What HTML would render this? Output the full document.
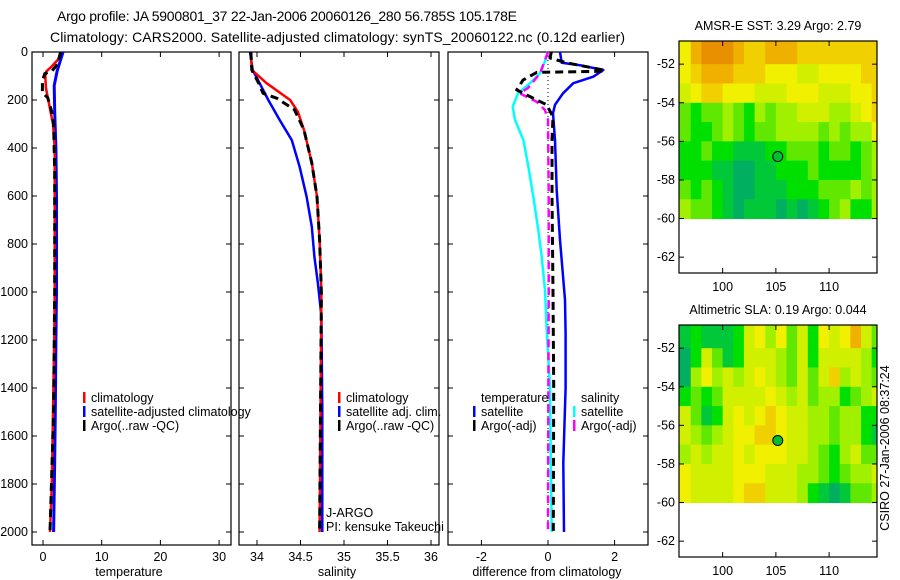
<!DOCTYPE html>
<html><head><meta charset="utf-8"><style>
body{margin:0;background:#fff;}
svg{display:block;font-family:"Liberation Sans",sans-serif;}
</style></head><body>
<svg id="c" width="900" height="580" viewBox="0 0 900 580">
<text x="57" y="21" font-size="14" textLength="460">Argo profile: JA 5900801_37 22-Jan-2006 20060126_280 56.785S 105.178E</text>
<text x="50" y="42" font-size="14" textLength="575">Climatology: CARS2000. Satellite-adjusted climatology: synTS_20060122.nc (0.12d earlier)</text>
</svg>
<script>
// ---------- data ----------
const depthTicks=[0,200,400,600,800,1000,1200,1400,1600,1800,2000];
const tempTicks=[0,10,20,30];
const salTicks=[34,34.5,35,35.5,36];
const diffTicks=[-2,0,2];
const tClimD=[0,30,60,80,100,150,200,250,300,400,600,1000,1200,1500,1800,2000];
const tClimV=[3.0,2.6,1.5,0.6,0.4,0.5,0.9,1.3,1.7,2.0,2.0,2.0,1.9,1.7,1.5,1.2];
const tArgoD=[0,50,80,90,120,170,190,250,300,500,1000,1500,2000];
const tArgoV=[3.0,2.5,1.5,0.3,-0.1,-0.1,0.8,1.5,1.8,2.0,2.0,1.8,1.2];
const tSatD=[0,80,140,250,400,600,1000,1200,1500,1700,2000];
const tSatV=[3.4,2.4,1.9,2.0,2.2,2.3,2.3,2.2,2.1,2.0,1.8];
const sClimD=[0,75,130,200,249,325,462,603,783,1004,1500,2000];
const sClimV=[33.93,33.94,34.11,34.38,34.47,34.54,34.63,34.69,34.72,34.74,34.73,34.72];
const sSatD=[0,75,130,200,283,367,478,603,728,853,964,1100,1500,2000];
const sSatV=[33.92,33.95,34.03,34.13,34.26,34.40,34.49,34.57,34.63,34.66,34.70,34.74,34.75,34.75];
const sArgoD=[0,75,130,172,193,210,240,325,462,603,783,1004,1500,2000];
const sArgoV=[33.93,33.94,34.02,34.07,34.23,34.30,34.43,34.54,34.63,34.69,34.72,34.74,34.73,34.72];
const dTSatD=[0,45,55,75,103,130,172,220,255,367,575,783,1033,1175,1400,1713,2000];
const dTSatV=[0.36,0.41,0.96,1.66,1.36,0.76,0.45,0.21,0.15,0.21,0.26,0.36,0.51,0.53,0.53,0.46,0.48];
const dTArgoD=[0,25,45,75,80,85,117,158,186,220,270,367,600,1000,1400,2000];
const dTArgoV=[0.1,0.06,0.56,1.66,1.7,-0.34,-0.75,-0.94,-0.54,-0.04,0.15,0.12,0.12,0.15,0.17,0.16];
const dSSatD=[0,28,89,130,172,228,283,367,478,603,742,853,992,1158,1400,2000];
const dSSatV=[-0.01,-0.06,-0.24,-0.54,-0.9,-1.06,-0.99,-0.74,-0.59,-0.44,-0.29,-0.19,-0.09,-0.04,0.06,0.11];
const dSArgoD=[0,89,150,172,207,242,283,600,1000,1500,2000];
const dSArgoV=[0,-0.24,-0.6,-0.85,-0.34,-0.09,0,0.02,0.02,0.01,0.0];
const latTicks=[-52,-54,-56,-58,-60,-62];
const lonTicks=[100,105,110];
const lonEdges=[95.9,97,98,99,100,101,102,103,104,105,106,107,108,109,110,111,112,113,114,114.5];
const latEdges=[-50.8,-52,-53,-54,-55,-56,-57,-58,-59,-60];
const sstGrid=["6899987788877777777","6788877766655666677","5677666555666555667","3233432434455544567","3223432334444343446","2232211122333233234","2221100112223222234","3232100111222333434","4332101110101234224"];
const slaGrid=["1211125646352656853","0253125554352555542","0464545654353574543","2323555565453442345","5312565676554434422","5434566776554434421","4545565666554324533","6555566655544323445","6555567755542101334"];
const argoLon=105.178, argoLat=-56.785;
const sstTitle="AMSR-E SST: 3.29 Argo: 2.79";
const slaTitle="Altimetric SLA: 0.19 Argo: 0.044";
// ---------- drawing ----------
const NS="http://www.w3.org/2000/svg";
const svg=document.getElementById('c');
function mk(tag,attrs,parent){const e=document.createElementNS(NS,tag);for(const k in attrs)e.setAttribute(k,attrs[k]);(parent||svg).appendChild(e);return e;}
function txt(x,y,s,size,anchor,parent){const e=mk('text',{x:x,y:y,'font-size':size||12,'text-anchor':anchor||'start'},parent);e.textContent=s;return e;}
const yD=d=>52+0.24*d;
const panels=[
 {name:'temperature',x0:32,x1:231,f:v=>43+5.87*v,ticks:tempTicks,label:'temperature',cx:129},
 {name:'salinity',x0:239,x1:439,f:v=>257+87*(v-34),ticks:salTicks,label:'salinity',cx:337},
 {name:'difference',x0:448,x1:648,f:v=>548+33.3*v,ticks:diffTicks,label:'difference from climatology',cx:547}
];
panels.forEach((p,i)=>{
 const g=mk('g',{});
 
 
 const r=mk('rect',{x:p.x0,y:52,width:p.x1-p.x0,height:493,fill:'none',stroke:'#000','stroke-width':1.2},g);
 
 
 p.ticks.forEach(t=>{const x=p.f(t);mk('line',{x1:x,x2:x,y1:545,y2:540,stroke:'#000'},g);mk('line',{x1:x,x2:x,y1:52,y2:57,stroke:'#000'},g);
  const tl=txt(x,561,String(t),12.5,'middle',g);
  
  });
 depthTicks.forEach(d=>{const y=yD(d);mk('line',{x1:p.x0,x2:p.x0+5,y1:y,y2:y,stroke:'#000'},g);mk('line',{x1:p.x1,x2:p.x1-5,y1:y,y2:y,stroke:'#000'},g);
  if(i===0){const tl=txt(28,y+4,String(d),12.5,'end',g);
   
   }});
 const xl=txt(p.cx,576,p.label,12.5,'middle',g);
 
 
});
function line(D,V,f,color,dash,name,w){
 const pts=D.map((d,i)=>f(V[i]).toFixed(1)+','+yD(d).toFixed(1)).join(' ');
 const e=mk('polyline',{points:pts,fill:'none',stroke:color,'stroke-width':w||2.5,'stroke-linejoin':'round'});
 if(dash)e.setAttribute('stroke-dasharray',dash);
 
 
}
const pf=panels.map(p=>p.f);
line(tSatD,tSatV,pf[0],'#0000ff',null,'temp-satellite-line',3);
line(tClimD,tClimV,pf[0],'#ff0000',null,'temp-climatology-line');
line(tArgoD,tArgoV,pf[0],'#000',"8,5",'temp-argo-line',3);
line(sSatD,sSatV,pf[1],'#0000ff',null,'sal-satellite-line',2.5);
line(sClimD,sClimV,pf[1],'#ff0000',null,'sal-climatology-line');
line(sArgoD,sArgoV,pf[1],'#000',"8,5",'sal-argo-line',3);
const zl=mk('line',{x1:pf[2](0),x2:pf[2](0),y1:yD(0),y2:yD(2000),stroke:'#000','stroke-width':1,'stroke-dasharray':'1,3'});


line(dSSatD,dSSatV,pf[2],'#00ffff',null,'diff-sal-satellite-line',2.5);
line(dTSatD,dTSatV,pf[2],'#0000ff',null,'diff-temp-satellite-line',2.5);
line(dSArgoD,dSArgoV,pf[2],'#ff00ff',"8,5",'diff-sal-argo-line',2.5);
line(dTArgoD,dTArgoV,pf[2],'#000',"8,5",'diff-temp-argo-line',3);
function legend(x,y,color,label,name){
 const g=mk('g',{});
 
 
 mk('rect',{x:x,y:y-10,width:2.5,height:11,fill:color},g);
 txt(x+8,y,label,12.5,'start',g);
}
legend(83,402,'#ff0000','climatology','legend-entry-climatology');
legend(83,416,'#0000ff','satellite-adjusted climatology','legend-entry-satellite');
legend(83,430,'#000','Argo(..raw -QC)','legend-entry-argo');
legend(338,402,'#ff0000','climatology','legend-entry-sal-climatology');
legend(338,416,'#0000ff','satellite adj. clim.','legend-entry-sal-satellite');
legend(338,430,'#000','Argo(..raw -QC)','legend-entry-sal-argo');
let tt=txt(481,402,'temperature',12.5);
let st=txt(581,402,'salinity',12.5);
legend(473,416,'#0000ff','satellite','legend-entry-diff-temp-satellite');
legend(473,430,'#000','Argo(-adj)','legend-entry-diff-temp-argo');
legend(573,416,'#00ffff','satellite','legend-entry-diff-sal-satellite');
legend(573,430,'#ff00ff','Argo(-adj)','legend-entry-diff-sal-argo');
let j1=txt(326,517,'J-ARGO',12.5);
let j2=txt(326,531,'PI: kensuke Takeuchi',12.5);
// maps
const palette=['#00b060','#00c838','#00e000','#60e800','#a0f000','#d0f000','#f0f000','#f0d000','#f0b000','#e89000'];
function map(top,grid,title,name){
 const g=mk('g',{});
 
 
 const L0=95.9,L1=114.5,lat0=-50.8;
 const fx=l=>679+(l-L0)*(198/(L1-L0));
 const fy=la=>top+(lat0-la)*19.3;
 grid.forEach((row,r)=>{for(let c=0;c<lonEdges.length-1;c++){
  const x=fx(lonEdges[c]),x2=fx(lonEdges[c+1]),y=fy(latEdges[r]),y2=fy(latEdges[r+1]);
  const cell=mk('rect',{x:x,y:y,width:x2-x+0.5,height:y2-y+0.5,fill:palette[+row[c]]},g);
  
  }});
 const b=mk('rect',{x:679,y:top,width:198,height:232,fill:'none',stroke:'#000','stroke-width':1.2},g);
 
 
 latTicks.forEach(la=>{const y=fy(la);mk('line',{x1:679,x2:684,y1:y,y2:y,stroke:'#000'},g);mk('line',{x1:877,x2:872,y1:y,y2:y,stroke:'#000'},g);
  const tl=txt(675,y+4,String(la),12.5,'end',g);
  
  });
 lonTicks.forEach(l=>{const x=fx(l);mk('line',{x1:x,x2:x,y1:top,y2:top+5,stroke:'#000'},g);mk('line',{x1:x,x2:x,y1:top+232,y2:top+227,stroke:'#000'},g);
  const tl=txt(x,top+250,String(l),12.5,'middle',g);
  
  });
 const t=txt(778,top-11,title,12.5,'middle',g);
 
 
 const m=mk('circle',{cx:fx(argoLon),cy:fy(argoLat),r:5,fill:'#00c030',stroke:'#000','stroke-width':1},g);
 
 
}
map(41,sstGrid,sstTitle,'sst-map');
map(325,slaGrid,slaTitle,'sla-map');
const cs=txt(0,0,'CSIRO 27-Jan-2006 08:37:24',12.5,'middle');
cs.setAttribute('transform','translate(889,448) rotate(-90)');


</script>
</body></html>
